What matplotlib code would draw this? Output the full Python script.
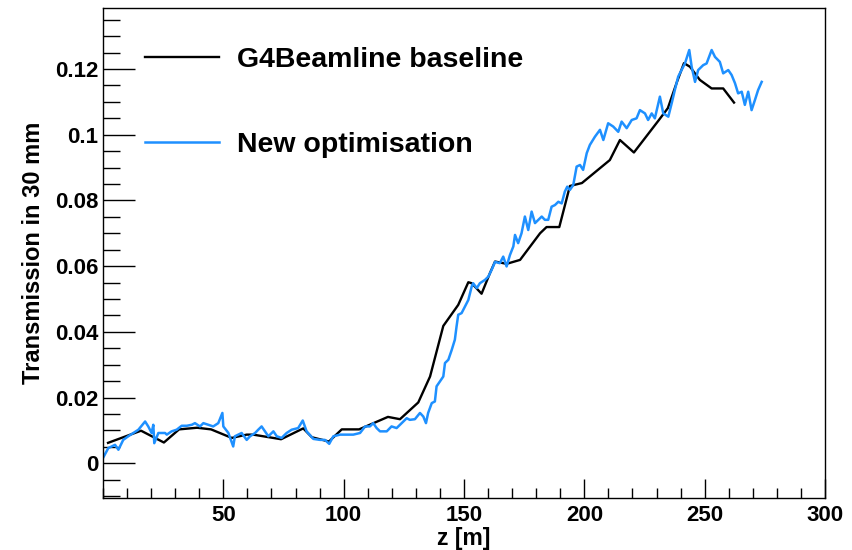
import matplotlib
matplotlib.use("Agg")
import matplotlib.pyplot as plt
from matplotlib.ticker import MultipleLocator

plt.rcParams["font.family"] = ["Liberation Sans", "DejaVu Sans"]
plt.rcParams["font.weight"] = "bold"

# G4Beamline baseline (black)
z_base = [2.1, 15.8, 25.3, 31.6, 39.1, 44.9, 53.5, 59.7, 62.4, 74.0, 83.2, 86.8,
          93.9, 99.2, 106.4, 118.4, 123.4, 131.0, 135.9, 141.4, 147.6, 151.8,
          153.2, 157.3, 160.8, 162.9, 167.7, 173.3, 181.6, 184.3, 189.6, 194.0,
          199.0, 210.6, 214.8, 220.6, 231.0, 234.7, 238.5, 241.4, 243.9, 248.0,
          252.9, 257.7, 262.2]
t_base = [0.0062, 0.0099, 0.0063, 0.0103, 0.0108, 0.0103, 0.0077, 0.0087, 0.0087,
          0.0073, 0.0106, 0.0079, 0.0066, 0.0103, 0.0103, 0.0141, 0.0134, 0.0185,
          0.0264, 0.0418, 0.0482, 0.0551, 0.0548, 0.0516, 0.0579, 0.0614, 0.0607,
          0.0619, 0.0700, 0.0719, 0.0719, 0.0844, 0.0853, 0.0923, 0.0984, 0.0946,
          0.1045, 0.1081, 0.1161, 0.1218, 0.1207, 0.1167, 0.1141, 0.1141, 0.1098]

# New optimisation (blue)
z_new = [0.0, 2.2, 5.0, 6.4, 8.4, 10.5, 12.6, 14.7, 17.5, 18.8, 20.2, 20.9, 21.3,
         23.0, 25.8, 26.5, 28.5, 30.6, 32.7, 34.8, 36.9, 38.2, 40.3, 41.7, 43.7,
         45.8, 47.9, 49.6, 50.0, 52.1, 54.1, 54.8, 57.6, 59.7, 61.1, 63.2, 64.5,
         65.9, 67.3, 68.7, 70.8, 72.2, 74.2, 76.3, 78.4, 81.1, 83.0, 84.6, 87.4,
         90.2, 92.2, 94.0, 95.7, 98.5, 101.2, 104.0, 106.8, 108.9, 110.9, 112.3,
         113.7, 115.1, 117.9, 119.9, 122.0, 123.4, 124.8, 126.2, 127.5, 129.6,
         131.7, 133.1, 134.2, 135.1, 136.6, 137.9, 138.6, 140.0, 141.4, 142.1,
         143.5, 144.9, 146.2, 146.9, 147.6, 149.0, 150.4, 151.8, 153.2, 153.8,
         155.3, 156.6, 158.7, 160.1, 161.5, 162.9, 164.9, 166.3, 167.7, 169.1,
         170.5, 171.2, 172.5, 173.9, 175.3, 176.7, 178.1, 179.5, 180.9, 182.3,
         183.6, 185.0, 186.4, 187.8, 189.2, 190.6, 191.9, 192.9, 194.0, 195.4,
         196.8, 198.2, 199.5, 201.0, 202.3, 204.4, 206.5, 207.9, 209.9, 212.0,
         214.1, 215.5, 217.6, 219.7, 221.7, 223.1, 225.2, 226.5, 228.0, 229.3,
         231.4, 232.8, 234.9, 236.3, 237.6, 239.0, 240.4, 241.8, 243.6, 244.6,
         246.0, 247.3, 249.4, 250.8, 252.9, 254.3, 256.3, 257.7, 259.8, 261.2,
         262.6, 263.9, 265.4, 266.7, 268.1, 269.5, 270.9, 272.2, 273.7]
t_new = [0.0016, 0.0046, 0.0056, 0.0041, 0.0071, 0.0082, 0.0092, 0.0102, 0.0127,
         0.0112, 0.0092, 0.0117, 0.0061, 0.0092, 0.0092, 0.0087, 0.0097, 0.0102,
         0.0114, 0.0114, 0.0117, 0.0122, 0.0112, 0.0122, 0.0117, 0.0112, 0.0122,
         0.0153, 0.0112, 0.0092, 0.0051, 0.0082, 0.0092, 0.0071, 0.0082, 0.0092,
         0.0102, 0.0112, 0.0097, 0.0082, 0.0097, 0.0082, 0.0077, 0.0092, 0.0102,
         0.0107, 0.0130, 0.0097, 0.0074, 0.0071, 0.0071, 0.0059, 0.0082, 0.0087,
         0.0087, 0.0087, 0.0092, 0.0112, 0.0112, 0.0122, 0.0107, 0.0097, 0.0097,
         0.0112, 0.0107, 0.0117, 0.0127, 0.0137, 0.0132, 0.0134, 0.0153, 0.0142,
         0.0122, 0.0153, 0.0183, 0.0188, 0.0234, 0.0249, 0.0264, 0.0305, 0.0315,
         0.0345, 0.0376, 0.0416, 0.0452, 0.0457, 0.0477, 0.0497, 0.0538, 0.0548,
         0.0533, 0.0548, 0.0558, 0.0568, 0.0589, 0.0613, 0.0609, 0.0629, 0.0599,
         0.0634, 0.0660, 0.0695, 0.0670, 0.0700, 0.0751, 0.0710, 0.0766, 0.0731,
         0.0741, 0.0751, 0.0741, 0.0741, 0.0781, 0.0786, 0.0796, 0.0791, 0.0827,
         0.0842, 0.0832, 0.0847, 0.0903, 0.0908, 0.0893, 0.0944, 0.0969, 0.0994,
         0.1015, 0.0984, 0.1035, 0.1025, 0.1009, 0.1040, 0.1020, 0.1045, 0.1050,
         0.1075, 0.1065, 0.1045, 0.1065, 0.1050, 0.1116, 0.1065, 0.1055, 0.1096,
         0.1136, 0.1177, 0.1197, 0.1217, 0.1258, 0.1207, 0.1161, 0.1197, 0.1212,
         0.1217, 0.1258, 0.1237, 0.1222, 0.1187, 0.1197, 0.1182, 0.1157, 0.1126,
         0.1131, 0.1091, 0.1131, 0.1075, 0.1106, 0.1136, 0.1161]

fig = plt.figure(figsize=(8.52, 5.5), dpi=100)
ax = fig.add_axes([0.1209, 0.0945, 0.8474, 0.891])

ax.plot(z_base, t_base, color="black", lw=1.7, label="G4Beamline baseline")
ax.plot(z_new, t_new, color="#1E90FF", lw=1.8, label="New optimisation")

ax.set_xlim(0, 300)
ax.set_ylim(-0.0106, 0.1386)
ax.set_xticks([50, 100, 150, 200, 250, 300])
ax.set_yticks([0, 0.02, 0.04, 0.06, 0.08, 0.1, 0.12])
ax.set_yticklabels(["0", "0.02", "0.04", "0.06", "0.08", "0.1", "0.12"])
ax.xaxis.set_minor_locator(MultipleLocator(10))
ax.yaxis.set_minor_locator(MultipleLocator(0.005))

ax.tick_params(axis="both", which="both", direction="in", top=False, right=False,
               width=1, labelsize=16)
ax.tick_params(axis="x", which="major", length=14, pad=5)
ax.tick_params(axis="x", which="minor", length=7)
ax.tick_params(axis="y", which="major", length=23, pad=3.5)
ax.tick_params(axis="y", which="minor", length=12)
for s in ax.spines.values():
    s.set_linewidth(1.0)

ax.set_xlabel("z [m]", fontsize=16.5, fontweight="bold", labelpad=1)
ax.set_ylabel("Transmission in 30 mm", fontsize=17, fontweight="bold", labelpad=7)

ax.legend(loc="upper left", bbox_to_anchor=(0.058, 0.92), frameon=False,
          fontsize=20.5, handlelength=2.6, handletextpad=0.62, labelspacing=2.05,
          borderpad=0, borderaxespad=0)

fig.savefig("out.png", dpi=100)
